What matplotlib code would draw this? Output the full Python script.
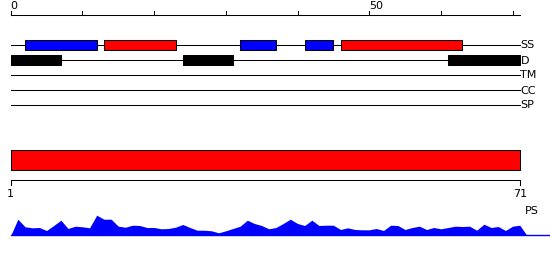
import matplotlib
matplotlib.use("Agg")
import matplotlib.pyplot as plt
import numpy as np

# sequence length and feature tracks
seq_len = 71
track_names = ["SS", "D", "TM", "CC", "SP"]

ss_start = [2, 13, 32, 41, 46]
ss_end = [12, 23, 37, 45, 63]
ss_colors = ["blue", "red", "blue", "blue", "red"]

d_start = [0, 24, 61]
d_end = [7, 31, 71]

# one full-length domain bar
dom_start = [0]
dom_end = [71]

top_ticks = list(range(0, 71, 10))
top_labels = {0: "0", 50: "50"}

# per-residue profile (PS)
ps_values = [16.3, 8.7, 7.7, 8, 5, 10, 15.3, 7, 9.3, 8.7,
             7.7, 20.3, 16.3, 16.3, 9.3, 8.3, 10.3, 10, 8, 8,
             6.7, 7, 8.3, 11, 8, 5.3, 5.3, 4.7, 2.7, 4.7,
             7, 9.3, 15.3, 12, 10, 6.7, 8, 12, 16.3, 12,
             10, 15.3, 10, 10.3, 10.3, 6, 7.7, 6, 5.7, 5.7,
             7, 5, 10.3, 10, 6, 8, 9.3, 6, 8, 6.7,
             8, 9.3, 9, 9.3, 5.3, 11.3, 8, 9, 5, 9.3, 10.3]

W, H = 550, 260
px = 7.17          # pixels per residue
x0 = 10.7          # pixel of residue 0
xlim = (-x0 / px, (W - x0) / px)

fig = plt.figure(figsize=(W / 100, H / 100), dpi=100)
ax = fig.add_axes([0, 0, 1, 1])
ax.set_xlim(*xlim)
ax.set_ylim(H, 0)
ax.axis("off")

lw = 0.75
fs = 8

# top ruler
ax.plot([0, seq_len], [15, 15], color="black", lw=lw)
for t in top_ticks:
    ax.plot([t, t], [15, 11], color="black", lw=lw)
    if t in top_labels:
        ax.text(t, 6, top_labels[t], fontsize=fs, ha="left", va="center")

# track lines and labels
track_y = [45, 60, 75, 90, 105]
for name, y in zip(track_names, track_y):
    ax.plot([0, seq_len], [y, y], color="black", lw=lw, zorder=1)
    ax.text(seq_len + 0.1, y + 0.5, name, fontsize=fs, ha="left", va="center")

# secondary structure boxes
ss_w = np.array(ss_end) - np.array(ss_start)
ax.barh(track_y[0], ss_w, left=ss_start, height=10.5, color=ss_colors,
        edgecolor="black", linewidth=lw, zorder=2)

# disorder boxes
d_w = np.array(d_end) - np.array(d_start)
ax.barh(track_y[1], d_w, left=d_start, height=10.5, color="black",
        edgecolor="black", linewidth=lw, zorder=2)

# domain bar
dom_w = np.array(dom_end) - np.array(dom_start)
ax.barh(160.3, dom_w, left=dom_start, height=20, color="red",
        edgecolor="black", linewidth=lw, zorder=2)

# bottom ruler
ax.plot([0, 0, seq_len, seq_len], [185, 180.3, 180.3, 185], color="black", lw=lw)
ax.text(0, 194, "1", fontsize=fs, ha="center", va="center")
ax.text(seq_len, 194, "71", fontsize=fs, ha="center", va="center")
ax.text(seq_len + 0.7, 211, "PS", fontsize=fs, ha="left", va="center")

# PS profile
ax2 = fig.add_axes([0, 24.5 / H, 1, 25 / H])
ax2.set_xlim(*xlim)
ax2.set_ylim(0, 25)
ax2.axis("off")
xs = np.arange(0, seq_len + 2)
ys = np.concatenate([[0], ps_values, [0]])
ax2.fill_between(xs, 0, ys, color="blue", lw=0)
ax2.plot([0, xlim[1]], [0.3, 0.3], color="blue", lw=1.0, clip_on=False)

fig.savefig("out.png", dpi=100)
